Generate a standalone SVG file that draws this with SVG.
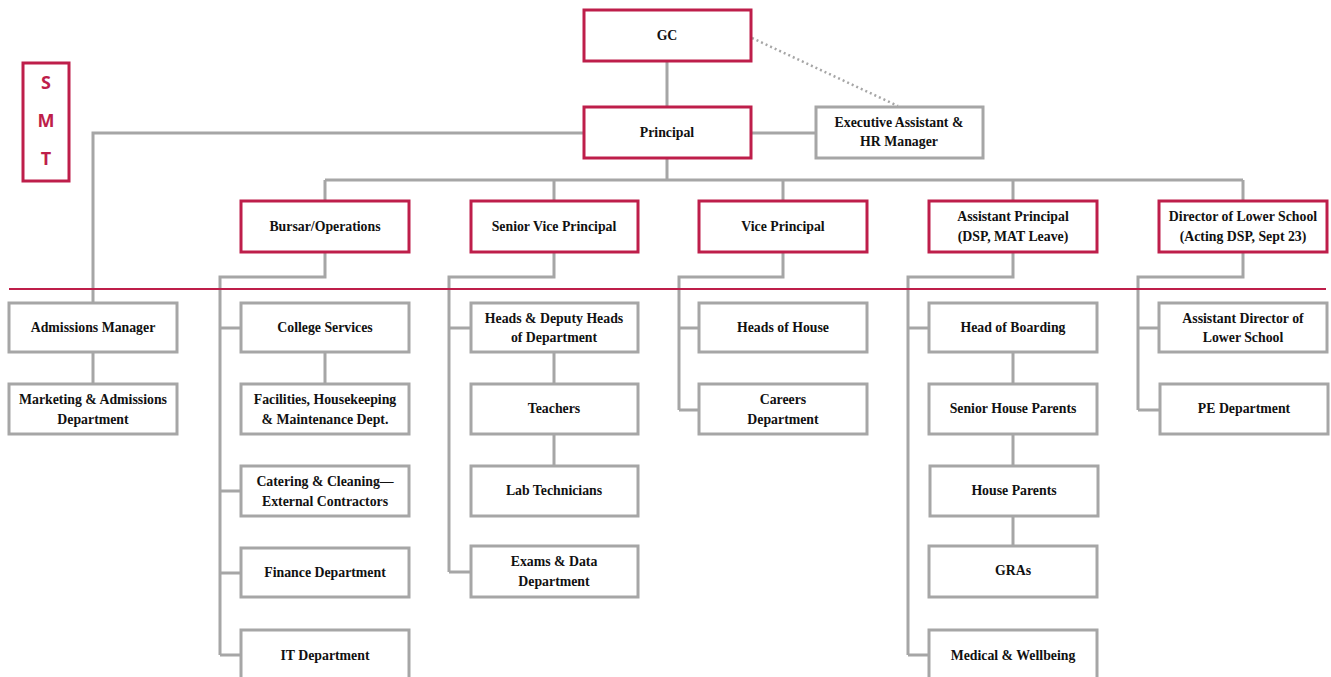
<svg xmlns="http://www.w3.org/2000/svg" width="1331" height="677" viewBox="0 0 1331 677">
<style>
.r{fill:#fff;stroke:#BE1E4A;stroke-width:3}
.g{fill:#fff;stroke:#A6A6A6;stroke-width:3}
.c{fill:none;stroke:#A6A6A6;stroke-width:3}
.t{font-family:"Liberation Serif","Times New Roman",serif;font-size:13.8px;font-weight:bold;fill:#111;text-anchor:middle}
.s{font-family:"Open Sans","Liberation Sans",sans-serif;font-size:18px;font-weight:bold;fill:#BE1E4A;text-anchor:middle}
</style>
<rect width="1331" height="677" fill="#fff"/>
<g id="connectors">
<line x1="752" y1="38" x2="898" y2="106" stroke="#A6A6A6" stroke-width="2.5" stroke-dasharray="2 3"/>
<path class="c" d="M667 61V107M667 158V180M325 180H1243M325 180V201M554 180V201M783 180V201M1013 180V201M1243 180V201"/>
<path class="c" d="M751 133H816M584 133H93V303M93 352V384"/>
<path class="c" d="M325 252V277H220V655M220 328H241M220 491H241M220 573H241M220 655H241M325 352V384"/>
<path class="c" d="M554 252V277H449V572M449 328H471M449 572H471M554 352V384M554 434V466"/>
<path class="c" d="M783 252V277H679V410M679 328H699M679 410H699"/>
<path class="c" d="M1013 252V277H908V655M908 328H929M908 655H929M1013 352V384M1013 434V466M1013 516V548"/>
<path class="c" d="M1243 252V277H1138V410M1138 328H1159M1138 410H1159"/>
<line x1="9" y1="289" x2="1326" y2="289" stroke="#BE1E4A" stroke-width="2"/>
</g>
<g id="smt"><rect class="r" x="23" y="63" width="46" height="118"/><text class="s" x="46" y="89">S</text><text class="s" x="46" y="127">M</text><text class="s" x="46" y="165">T</text></g>
<g id="gc"><rect class="r" x="584" y="10" width="167" height="51"/><text class="t" x="667" y="40">GC</text></g>
<g id="principal"><rect class="r" x="584" y="107" width="167" height="51"/><text class="t" x="667" y="137">Principal</text></g>
<g id="exec"><rect class="g" x="816" y="107" width="167" height="51"/><text class="t" x="899" y="127">Executive Assistant &amp;</text><text class="t" x="899" y="146">HR Manager</text></g>
<g id="bursar"><rect class="r" x="241" y="201" width="168" height="51"/><text class="t" x="325" y="231">Bursar/Operations</text></g>
<g id="svp"><rect class="r" x="471" y="201" width="167" height="51"/><text class="t" x="554" y="231">Senior Vice Principal</text></g>
<g id="vp"><rect class="r" x="699" y="201" width="168" height="51"/><text class="t" x="783" y="231">Vice Principal</text></g>
<g id="ap"><rect class="r" x="929" y="201" width="168" height="51"/><text class="t" x="1013" y="221">Assistant Principal</text><text class="t" x="1013" y="241">(DSP, MAT Leave)</text></g>
<g id="dls"><rect class="r" x="1159" y="201" width="168" height="51"/><text class="t" x="1243" y="221">Director of Lower School</text><text class="t" x="1243" y="241">(Acting DSP, Sept 23)</text></g>
<g id="admissions"><rect class="g" x="9" y="303" width="168" height="49"/><text class="t" x="93" y="332">Admissions Manager</text></g>
<g id="marketing"><rect class="g" x="9" y="384" width="168" height="50"/><text class="t" x="93" y="404">Marketing &amp; Admissions</text><text class="t" x="93" y="424">Department</text></g>
<g id="college"><rect class="g" x="241" y="303" width="168" height="49"/><text class="t" x="325" y="332">College Services</text></g>
<g id="facilities"><rect class="g" x="241" y="384" width="168" height="50"/><text class="t" x="325" y="404">Facilities, Housekeeping</text><text class="t" x="325" y="424">&amp; Maintenance Dept.</text></g>
<g id="catering"><rect class="g" x="241" y="466" width="168" height="50"/><text class="t" x="325" y="486">Catering &amp; Cleaning—</text><text class="t" x="325" y="506">External Contractors</text></g>
<g id="finance"><rect class="g" x="241" y="548" width="168" height="49"/><text class="t" x="325" y="577">Finance Department</text></g>
<g id="it"><rect class="g" x="241" y="630" width="168" height="52"/><text class="t" x="325" y="660">IT Department</text></g>
<g id="heads"><rect class="g" x="471" y="303" width="167" height="49"/><text class="t" x="554" y="323">Heads &amp; Deputy Heads</text><text class="t" x="554" y="342">of Department</text></g>
<g id="teachers"><rect class="g" x="471" y="384" width="167" height="50"/><text class="t" x="554" y="413">Teachers</text></g>
<g id="lab"><rect class="g" x="471" y="466" width="167" height="50"/><text class="t" x="554" y="495">Lab Technicians</text></g>
<g id="exams"><rect class="g" x="471" y="546" width="167" height="51"/><text class="t" x="554" y="566">Exams &amp; Data</text><text class="t" x="554" y="586">Department</text></g>
<g id="hoh"><rect class="g" x="699" y="303" width="168" height="49"/><text class="t" x="783" y="332">Heads of House</text></g>
<g id="careers"><rect class="g" x="699" y="384" width="168" height="50"/><text class="t" x="783" y="404">Careers</text><text class="t" x="783" y="424">Department</text></g>
<g id="hob"><rect class="g" x="929" y="303" width="168" height="49"/><text class="t" x="1013" y="332">Head of Boarding</text></g>
<g id="shp"><rect class="g" x="929" y="384" width="168" height="50"/><text class="t" x="1013" y="413">Senior House Parents</text></g>
<g id="hp"><rect class="g" x="930" y="466" width="168" height="50"/><text class="t" x="1014" y="495">House Parents</text></g>
<g id="gras"><rect class="g" x="929" y="546" width="168" height="51"/><text class="t" x="1013" y="575">GRAs</text></g>
<g id="medical"><rect class="g" x="929" y="630" width="168" height="52"/><text class="t" x="1013" y="660">Medical &amp; Wellbeing</text></g>
<g id="adls"><rect class="g" x="1159" y="303" width="168" height="49"/><text class="t" x="1243" y="323">Assistant Director of</text><text class="t" x="1243" y="342">Lower School</text></g>
<g id="pe"><rect class="g" x="1160" y="384" width="168" height="50"/><text class="t" x="1244" y="413">PE Department</text></g>
</svg>
